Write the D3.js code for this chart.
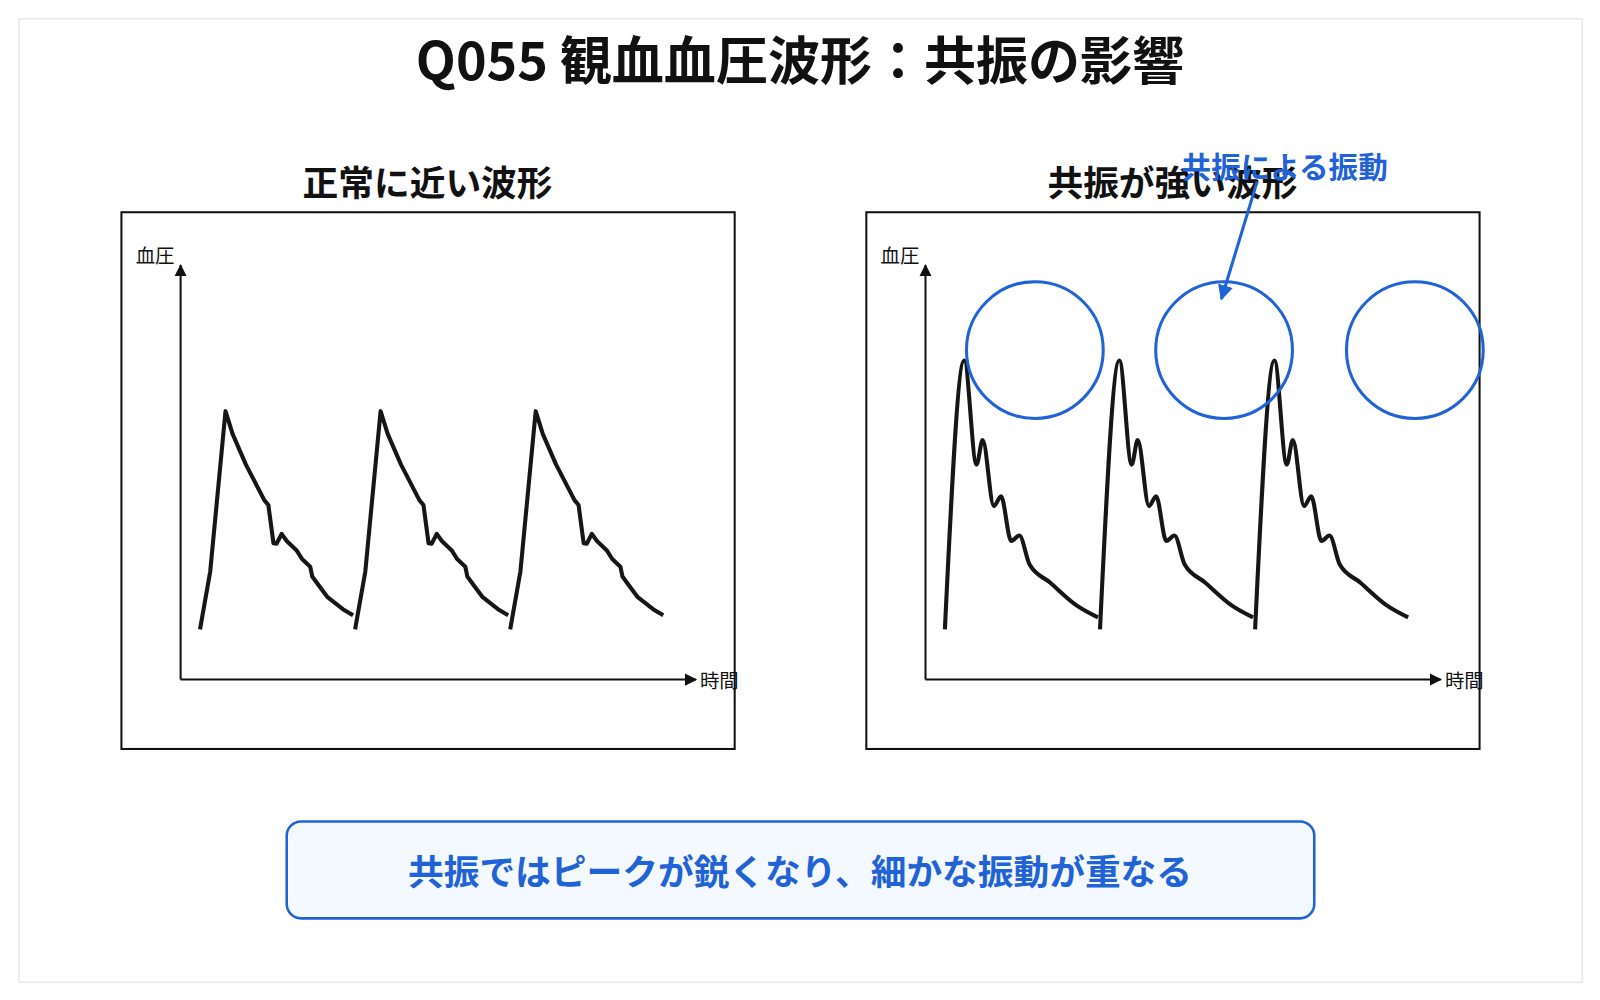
<!DOCTYPE html>
<html><head><meta charset="utf-8">
<script src="https://cdn.jsdelivr.net/npm/d3@7"></script>
<style>body{margin:0;background:#fff;font-family:"Noto Sans CJK JP","Noto Sans",sans-serif;}</style>
</head><body>
<svg id="svg" width="1600" height="1000"></svg>
<script>
// ── Data: one beat, time in beat fractions (×152), pressure in mmHg ─────────
const normalT = [0, 10, 25, 32, 45, 63, 67, 72, 75, 80, 85, 95, 100, 108, 110, 115, 125, 140, 150];
const normalP = [79.2, 89.8, 119.2, 115.0, 109.4, 102.9, 102.0, 95.0, 94.9, 96.7, 95.4, 93.6, 92.1, 90.7, 88.9, 87.6, 85.1, 82.9, 81.8];
const resonT  = [0, 19, 31, 37, 48, 55, 65, 73, 83, 103, 129, 150];
const resonP  = [79.2, 128.5, 109.4, 113.9, 101.8, 103.6, 95.4, 96.4, 91.1, 87.8, 83.6, 81.4];
const beats   = [0, 1, 2];
const circleT = [0.58, 1.80, 3.03];   // resonance circles (beat units)
const circleP = [130.4];

const title    = 'Q055 観血血圧波形：共振の影響';
const panels   = [
  { title: '正常に近い波形', t: normalT, p: normalP, ox: 118, curve: d3.curveLinear },
  { title: '共振が強い波形', t: resonT, p: resonP, ox: 848, curve: d3.curveMonotoneX, resonance: true }
];
const note     = '共振ではピークが鋭くなり、細かな振動が重なる';
const annot    = '共振による振動';

const root = d3.select('#svg');
const svg = root.append('g').attr('transform', 'scale(1.0204)');
const blue = '#1f63d6';

svg.append('rect').attr('x', 18.5).attr('y', 18.5).attr('width', 1532).attr('height', 944)
  .attr('fill', '#fff').attr('stroke', '#ddd');

svg.append('text').attr('x', 784).attr('y', 78).attr('text-anchor', 'middle')
  .attr('font-size', 51).attr('font-weight', 700).attr('fill', '#111').text(title);

const defs = root.append('defs');
defs.append('marker').attr('id', 'ah').attr('viewBox', '0 0 10 10').attr('refX', 9).attr('refY', 5)
  .attr('markerWidth', 6).attr('markerHeight', 6).attr('orient', 'auto')
  .append('path').attr('d', 'M0,0L10,5L0,10z').attr('fill', '#111');
defs.append('marker').attr('id', 'ahb').attr('viewBox', '0 0 10 10').attr('refX', 9).attr('refY', 5)
  .attr('markerWidth', 5).attr('markerHeight', 5).attr('orient', 'auto')
  .append('path').attr('d', 'M0,0L10,5L0,10z').attr('fill', blue);

panels.forEach(pn => {
  const g = svg.append('g').attr('transform', `translate(${pn.ox},0)`);
  const x = d3.scaleLinear().domain([0, 3]).range([78, 534]);
  const y = d3.scaleLinear().domain([70, 145]).range([666, 265]);

  g.append('text').attr('x', 301).attr('y', 192).attr('text-anchor', 'middle')
    .attr('font-size', 35).attr('font-weight', 700).attr('fill', '#111').text(pn.title);
  g.append('rect').attr('x', 1).attr('y', 208).attr('width', 601).attr('height', 526)
    .attr('fill', 'none').attr('stroke', '#111').attr('stroke-width', 2);

  // axes
  g.append('line').attr('x1', 59).attr('y1', 666).attr('x2', 59).attr('y2', 260)
    .attr('stroke', '#111').attr('stroke-width', 2).attr('marker-end', 'url(#ah)');
  g.append('line').attr('x1', 59).attr('y1', 666).attr('x2', 564).attr('y2', 666)
    .attr('stroke', '#111').attr('stroke-width', 2).attr('marker-end', 'url(#ah)');
  g.append('text').attr('x', 15).attr('y', 258).attr('font-size', 19).attr('fill', '#111').text('血圧');
  g.append('text').attr('x', 568).attr('y', 674).attr('font-size', 19).attr('fill', '#111').text('時間');

  const line = d3.line().x(d => x(d[0])).y(d => y(d[1])).curve(pn.curve);
  beats.forEach(b => {
    const pts = pn.t.map((t, i) => [b + t / 152, pn.p[i]]);
    g.append('path').attr('d', line(pts)).attr('fill', 'none')
      .attr('stroke', '#161616').attr('stroke-width', 4).attr('stroke-linejoin', 'round');
  });

  if (pn.resonance) {
    g.selectAll('circle.res').data(circleT).join('circle').attr('class', 'res')
      .attr('cx', d => x(d)).attr('cy', y(circleP[0])).attr('r', 67)
      .attr('fill', 'none').attr('stroke', blue).attr('stroke-width', 3);
  }
});

// annotation
svg.append('line').attr('x1', 1232).attr('y1', 178).attr('x2', 1197).attr('y2', 293)
  .attr('stroke', blue).attr('stroke-width', 3).attr('marker-end', 'url(#ahb)');
svg.append('text').attr('x', 1259).attr('y', 174).attr('text-anchor', 'middle')
  .attr('font-size', 29).attr('font-weight', 700).attr('fill', blue).text(annot);

// bottom note
svg.append('rect').attr('x', 281).attr('y', 805).attr('width', 1007).attr('height', 95).attr('rx', 14)
  .attr('fill', '#f4f9ff').attr('stroke', blue).attr('stroke-width', 2.5);
svg.append('text').attr('x', 784).attr('y', 867).attr('text-anchor', 'middle')
  .attr('font-size', 35).attr('font-weight', 700).attr('fill', blue).text(note);
</script>
</body></html>
